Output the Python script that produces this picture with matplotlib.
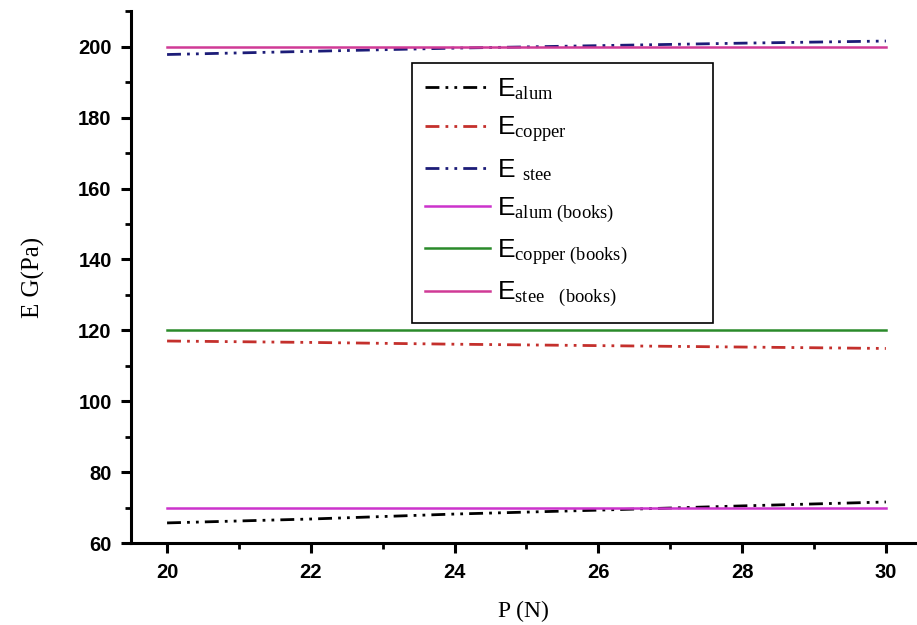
import matplotlib.pyplot as plt
from matplotlib.ticker import MultipleLocator

# data
P = [20, 22, 24, 26, 28, 30]
E_alum = [65.7, 66.8, 68.2, 69.3, 70.5, 71.6]
E_copper = [117.0, 116.6, 116.1, 115.7, 115.3, 114.9]
E_steel = [197.8, 198.7, 199.6, 200.3, 201.0, 201.6]

P_books = [20, 30]
alum_books = [70, 70]
copper_books = [120, 120]
steel_books = [200, 200]

plt.rcParams["mathtext.fontset"] = "custom"
plt.rcParams["mathtext.rm"] = "Liberation Serif"
plt.rcParams["mathtext.it"] = "Liberation Serif"

fig = plt.figure(figsize=(9.17, 6.25), dpi=100)
ax = fig.add_axes([0.143, 0.131, 0.856, 0.851])

dash = (0, (5, 2.2, 1.0, 2.2, 1.0, 2.2))
ax.plot(P, E_alum, color="black", lw=2, linestyle=dash,
        label=r"E$_{\mathrm{alum}}$")
ax.plot(P, E_copper, color="#c4302c", lw=2, linestyle=dash,
        label=r"E$_{\mathrm{copper}}$")
ax.plot(P, E_steel, color="#1c1c78", lw=2, linestyle=dash,
        label=r"E $_{\mathrm{stee}}$")
ax.plot(P_books, alum_books, color="#cc33cc", lw=1.8,
        label=r"E$_{\mathrm{alum\ (books)}}$")
ax.plot(P_books, copper_books, color="#2a8a2a", lw=1.8,
        label=r"E$_{\mathrm{copper\ (books)}}$")
ax.plot(P_books, steel_books, color="#d03a96", lw=1.8,
        label=r"E$_{\mathrm{stee}}$  $_{\mathrm{(books)}}$")

ax.set_xlim(19.5, 30.42)
ax.set_ylim(60, 210)
ax.xaxis.set_major_locator(MultipleLocator(2))
ax.xaxis.set_minor_locator(MultipleLocator(1))
ax.yaxis.set_major_locator(MultipleLocator(20))
ax.yaxis.set_minor_locator(MultipleLocator(10))

for side in ["top", "right"]:
    ax.spines[side].set_visible(False)
for side in ["left", "bottom"]:
    ax.spines[side].set_linewidth(2.2)

ax.tick_params(which="major", direction="out", length=7, width=2.2, pad=7)
ax.tick_params(which="minor", direction="out", length=4, width=2)
for lab in ax.get_xticklabels() + ax.get_yticklabels():
    lab.set_fontfamily("Liberation Sans")
    lab.set_fontweight("bold")
    lab.set_fontsize(14.5)

ax.set_xlabel("P (N)", family="Liberation Serif", fontsize=17, labelpad=14)
ax.set_ylabel("E G(Pa)", family="Liberation Serif", fontsize=18, labelpad=24)

leg = ax.legend(loc="upper left",
                bbox_to_anchor=(412 / 917, 1 - 320 / 625, 301 / 917, 257 / 625),
                bbox_transform=fig.transFigure, mode="expand", borderaxespad=0,
                fancybox=False, edgecolor="black", framealpha=1,
                handlelength=2.45, labelspacing=0.48, borderpad=0.5,
                handletextpad=0.27,
                prop={"family": "Liberation Sans", "size": 19})
leg.get_frame().set_linewidth(1.2)

plt.savefig("out.png", dpi=100)
